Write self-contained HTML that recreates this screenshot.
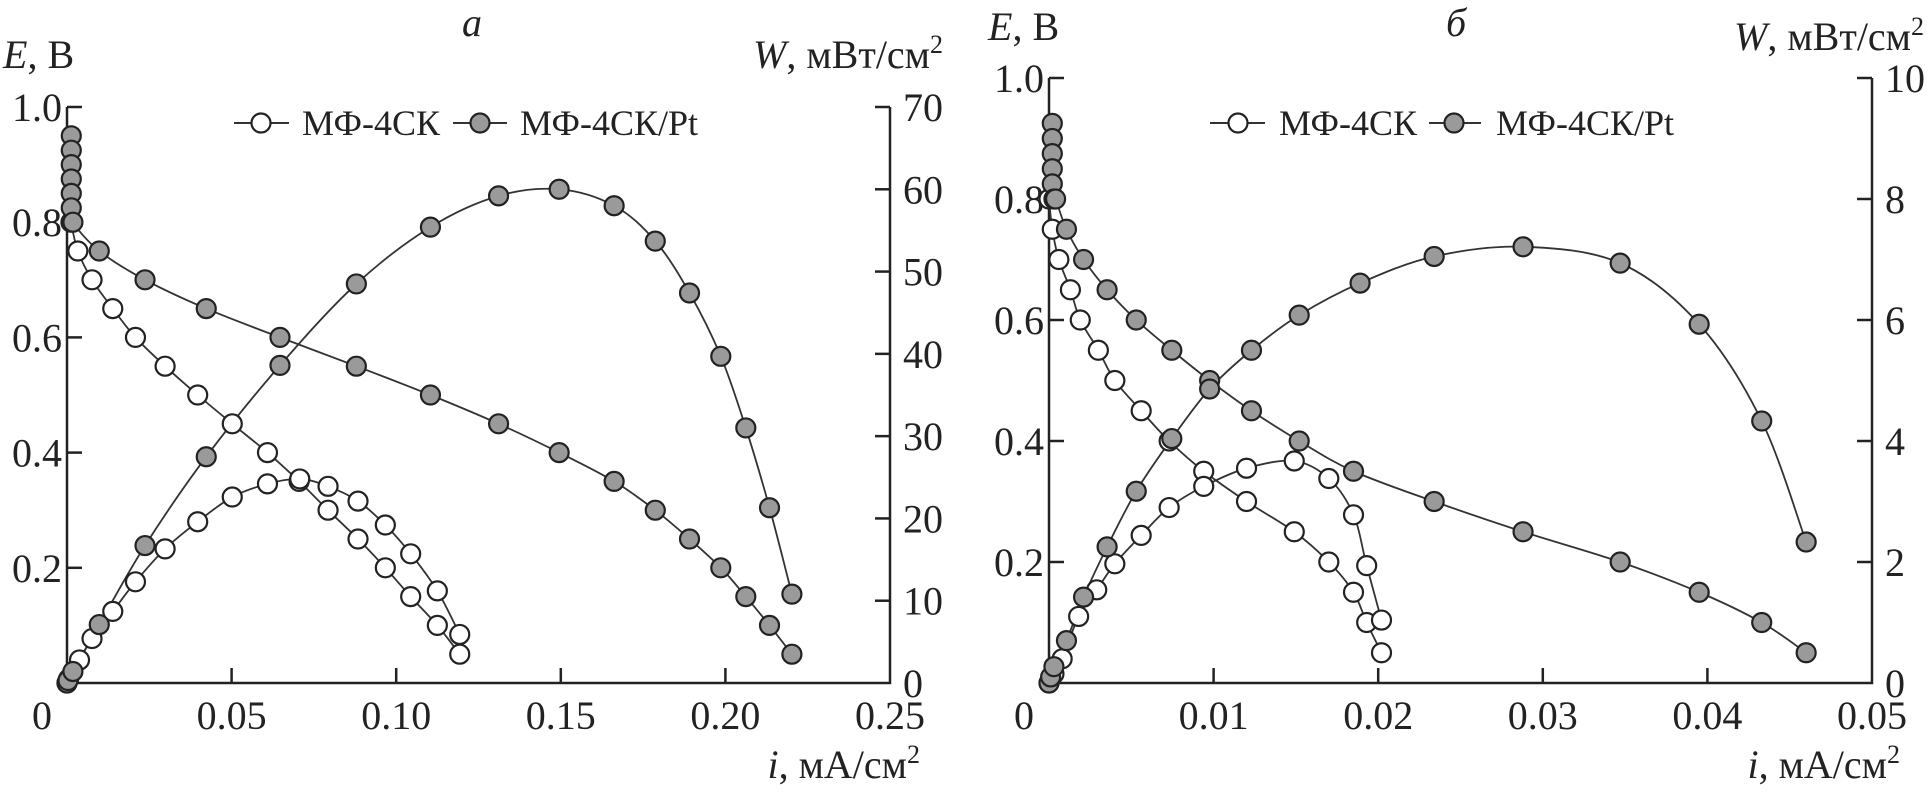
<!DOCTYPE html>
<html><head><meta charset="utf-8"><style>
html,body{margin:0;padding:0;background:#fff;}
svg{display:block;}
text{font-family:"Liberation Serif",serif;fill:#222;}
</style></head><body>
<svg id="chart" width="1929" height="792" viewBox="0 0 1929 792" xmlns="http://www.w3.org/2000/svg"></svg>
<script>
// Panel a data
const aOpenEi=[0.0012,0.0033,0.0076,0.0139,0.0208,0.0298,0.0397,0.0502,0.0609,0.0705,0.0793,0.0884,0.0967,0.1044,0.1125,0.1193];
const aOpenE=[0.80,0.75,0.70,0.65,0.60,0.55,0.50,0.45,0.40,0.35,0.30,0.25,0.20,0.15,0.10,0.05];
const aOpenWi=[0,0.0005,0.0038,0.0076,0.0139,0.0208,0.0298,0.0397,0.0502,0.0609,0.0707,0.0793,0.0884,0.0967,0.1044,0.1125,0.1193];
const aOpenW=[0,0.5,2.8,5.4,8.7,12.3,16.3,19.6,22.6,24.2,24.8,23.9,22.1,19.2,15.7,11.2,5.9];
const aPtEi=[0.0013,0.0013,0.0013,0.0013,0.0013,0.0013,0.0018,0.0098,0.0237,0.0423,0.0647,0.0879,0.1104,0.1311,0.1495,0.1662,0.1787,0.1891,0.1986,0.2062,0.2134,0.2202];
const aPtE=[0.95,0.925,0.90,0.875,0.85,0.825,0.80,0.75,0.70,0.65,0.60,0.55,0.50,0.45,0.40,0.35,0.30,0.25,0.20,0.15,0.10,0.05];
const aPtWi=[0,0.0003,0.0018,0.0098,0.0237,0.0423,0.0647,0.0879,0.1104,0.1311,0.1495,0.1662,0.1787,0.1891,0.1986,0.2062,0.2134,0.2202];
const aPtW=[0,0.3,1.4,7.1,16.7,27.5,38.6,48.5,55.4,59.2,60.0,58.0,53.7,47.4,39.7,31.0,21.3,10.8];
// Panel b data
const bOpenEi=[0.0000,0.0002,0.0006,0.0013,0.0019,0.0030,0.0040,0.0056,0.0073,0.0094,0.0120,0.0149,0.0170,0.0185,0.0193,0.0202];
const bOpenE=[0.80,0.75,0.70,0.65,0.60,0.55,0.50,0.45,0.40,0.35,0.30,0.25,0.20,0.15,0.10,0.05];
const bOpenWi=[0,0.0003,0.0008,0.0018,0.0029,0.0040,0.0056,0.0073,0.0094,0.0120,0.0149,0.0170,0.0185,0.0193,0.0202];
const bOpenW=[0,0.15,0.4,1.1,1.54,1.97,2.44,2.9,3.25,3.55,3.67,3.38,2.78,1.94,1.04];
const bPtEi=[0.0002,0.0002,0.0002,0.0002,0.0002,0.0003,0.0004,0.00106,0.0021,0.00353,0.0053,0.00746,0.00976,0.0123,0.0152,0.0185,0.0234,0.0288,0.0347,0.0395,0.0433,0.0460];
const bPtE=[0.925,0.90,0.875,0.85,0.825,0.80,0.80,0.75,0.70,0.65,0.60,0.55,0.50,0.45,0.40,0.35,0.30,0.25,0.20,0.15,0.10,0.05];
const bPtWi=[0,0.0001,0.0003,0.00106,0.0021,0.00353,0.0053,0.00746,0.00976,0.0123,0.0152,0.0189,0.0234,0.0288,0.0347,0.0395,0.0433,0.0460];
const bPtW=[0,0.1,0.27,0.7,1.42,2.25,3.17,4.04,4.86,5.5,6.08,6.61,7.05,7.21,6.94,5.93,4.33,2.33];
// ticks
const aXTicks=["0","0.05","0.10","0.15","0.20","0.25"];
const bXTicks=["0","0.01","0.02","0.03","0.04","0.05"];
const eTicks=["0.2","0.4","0.6","0.8","1.0"];
const aWTicks=["0","10","20","30","40","50","60","70"];
const bWTicks=["0","2","4","6","8","10"];

const NS="http://www.w3.org/2000/svg";
const svg=document.getElementById('chart');
function mk(tag,attrs,parent){const e=document.createElementNS(NS,tag);for(const k in attrs)e.setAttribute(k,attrs[k]);(parent||svg).appendChild(e);return e;}
function smooth(pts){
  if(pts.length<2)return '';
  let d='M'+pts[0][0]+','+pts[0][1];
  for(let i=0;i<pts.length-1;i++){
    const p0=pts[Math.max(0,i-1)],p1=pts[i],p2=pts[i+1],p3=pts[Math.min(pts.length-1,i+2)];
    const t=6;
    d+=' C'+(p1[0]+(p2[0]-p0[0])/t)+','+(p1[1]+(p2[1]-p0[1])/t)+' '+(p2[0]-(p3[0]-p1[0])/t)+','+(p2[1]-(p3[1]-p1[1])/t)+' '+p2[0]+','+p2[1];
  }
  return d;
}
function panel(cfg){
  const g=mk('g',{});
  
  
  const X=v=>cfg.x0+(v/cfg.xMax)*(cfg.x1-cfg.x0);
  const YE=v=>cfg.y0-(v/1.0)*(cfg.y0-cfg.y1);
  const YW=v=>cfg.y0-(v/cfg.wMax)*(cfg.y0-cfg.y1);
  const ax=mk('path',{d:`M${cfg.x0},${cfg.y1} L${cfg.x0},${cfg.y0} L${cfg.x1},${cfg.y0} L${cfg.x1},${cfg.y1}`,fill:'none',stroke:'#222','stroke-width':2.5},g);
  
  
  cfg.xTicks.forEach((t,k)=>{
    const v=k*cfg.xMax/(cfg.xTicks.length-1);const x=X(v);
    if(k>0&&k<cfg.xTicks.length-1){const tk=mk('line',{x1:x,y1:cfg.y0,x2:x,y2:cfg.y0-15,stroke:'#222','stroke-width':2.5},g);
      
      }
    const tx=mk('text',{x:k==0?x-25:x,y:cfg.y0+46,'font-size':40,'text-anchor':'middle'},g);tx.textContent=t;
    
    
  });
  eTicks.forEach((t,k)=>{
    const v=(k+1)*0.2;const y=YE(v);
    const tk=mk('line',{x1:cfg.x0,y1:y,x2:cfg.x0+15,y2:y,stroke:'#222','stroke-width':2.5},g);
    
    
    const tx=mk('text',{x:cfg.x0-5,y:y+14,'font-size':40,'text-anchor':'end'},g);tx.textContent=t;
    
    
  });
  cfg.wTicks.forEach((t,k)=>{
    const v=k*cfg.wMax/(cfg.wTicks.length-1);const y=YW(v);
    if(k>0){const tk=mk('line',{x1:cfg.x1,y1:y,x2:cfg.x1-15,y2:y,stroke:'#222','stroke-width':2.5},g);
      
      }
    const tx=mk('text',{x:cfg.x1+13,y:y+14,'font-size':40,'text-anchor':'start'},g);tx.textContent=t;
    
    
  });
  const series=[
    [cfg.openEi,cfg.openE,YE,'#fff','open-e-curve'],
    [cfg.openWi,cfg.openW,YW,'#fff','open-w-curve'],
    [cfg.ptEi,cfg.ptE,YE,'#9a9a9a','pt-e-curve'],
    [cfg.ptWi,cfg.ptW,YW,'#9a9a9a','pt-w-curve']];
  series.forEach(s=>{
    const pts=s[0].map((v,k)=>[X(v),s[2](s[1][k])]);
    const p=mk('path',{d:smooth(pts),fill:'none',stroke:'#333','stroke-width':1.8},g);
    
    
  });
  series.forEach(s=>{
    s[0].forEach((v,k)=>{
      const c=mk('circle',{cx:X(v),cy:s[2](s[1][k]),r:9.5,fill:s[3],stroke:'#222','stroke-width':2.2},g);
      
      
    });
  });
}
panel({name:'panel-a',x0:67,x1:890,y0:683,y1:107,xMax:0.25,wMax:70,xTicks:aXTicks,wTicks:aWTicks,
  openEi:aOpenEi,openE:aOpenE,openWi:aOpenWi,openW:aOpenW,ptEi:aPtEi,ptE:aPtE,ptWi:aPtWi,ptW:aPtW});
panel({name:'panel-b',x0:1049,x1:1872,y0:683,y1:78,xMax:0.05,wMax:10,xTicks:bXTicks,wTicks:bWTicks,
  openEi:bOpenEi,openE:bOpenE,openWi:bOpenWi,openW:bOpenW,ptEi:bPtEi,ptE:bPtE,ptWi:bPtWi,ptW:bPtW});
</script>
<svg style="position:absolute;left:0;top:0" width="1929" height="792">
  <g font-family="Liberation Serif, serif" font-size="40" fill="#222">
    <text x="472" y="36" font-style="italic" text-anchor="middle">а</text>
    <text x="3" y="68"><tspan font-style="italic">E</tspan>, В</text>
    <text x="943" y="68" text-anchor="end"><tspan font-style="italic">W</tspan>, мВт/см<tspan font-size="26" dy="-15">2</tspan></text>
    <text x="920" y="778" text-anchor="end"><tspan font-style="italic">i</tspan>, мА/см<tspan font-size="26" dy="-15">2</tspan></text>
    <text x="1456" y="36" font-style="italic" text-anchor="middle">б</text>
    <text x="988" y="40"><tspan font-style="italic">E</tspan>, В</text>
    <text x="1924" y="50" text-anchor="end"><tspan font-style="italic">W</tspan>, мВт/см<tspan font-size="26" dy="-15">2</tspan></text>
    <text x="1900" y="778" text-anchor="end"><tspan font-style="italic">i</tspan>, мА/см<tspan font-size="26" dy="-15">2</tspan></text>
  </g>
  <g font-family="Liberation Serif, serif" font-size="36" fill="#222">
    <line x1="234" y1="123" x2="289" y2="123" stroke="#333" stroke-width="2"/>
    <circle cx="261" cy="123" r="9.5" fill="#fff" stroke="#222" stroke-width="2.2"/>
    <text x="302" y="135">МФ-4СК</text>
    <line x1="453" y1="123" x2="507" y2="123" stroke="#333" stroke-width="2"/>
    <circle cx="480" cy="123" r="9.5" fill="#9a9a9a" stroke="#222" stroke-width="2.2"/>
    <text x="520" y="135">МФ-4СК/Pt</text>
  </g>
  <g font-family="Liberation Serif, serif" font-size="36" fill="#222">
    <line x1="1210" y1="123" x2="1265" y2="123" stroke="#333" stroke-width="2"/>
    <circle cx="1238" cy="123" r="9.5" fill="#fff" stroke="#222" stroke-width="2.2"/>
    <text x="1279" y="135">МФ-4СК</text>
    <line x1="1429" y1="123" x2="1481" y2="123" stroke="#333" stroke-width="2"/>
    <circle cx="1454" cy="123" r="9.5" fill="#9a9a9a" stroke="#222" stroke-width="2.2"/>
    <text x="1496" y="135">МФ-4СК/Pt</text>
  </g>
</svg>
</body></html>
